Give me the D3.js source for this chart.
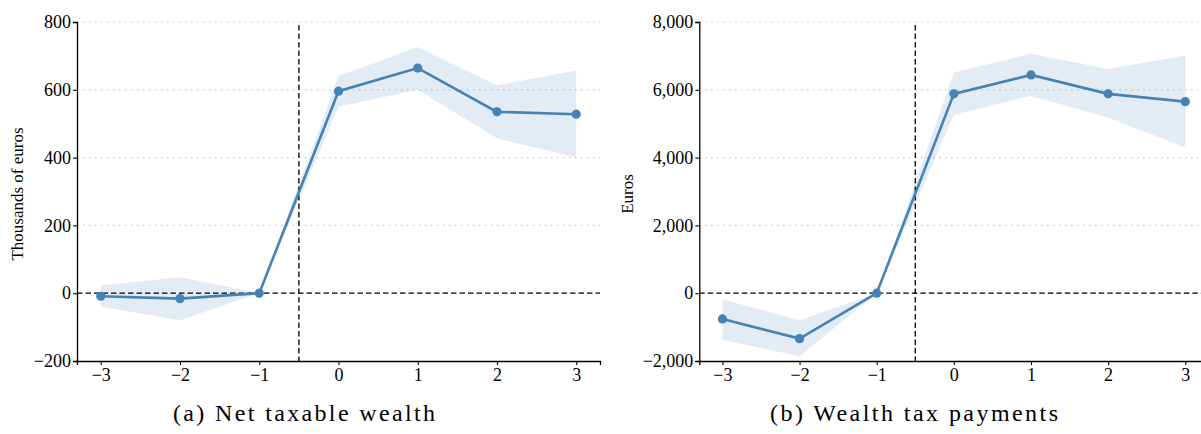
<!DOCTYPE html>
<html>
<head>
<meta charset="utf-8">
<script src="https://cdn.jsdelivr.net/npm/d3@7"></script>
<style>
  body { margin: 0; background: #fff; }
  svg { display: block; }
  svg text { font-family: "Liberation Serif", "DejaVu Serif", serif; }
</style>
</head>
<body>
<svg id="chart" width="1201" height="434"></svg>
<script>
// event time (years relative to treatment)
const years = [-3, -2, -1, 0, 1, 2, 3];

// (a) net taxable wealth, thousands of euros
const wealthEst = [-9, -16, 0, 596, 664, 535, 528];
const wealthLo = [-40, -80, 0, 550, 600, 457, 400];
const wealthHi = [23, 47, 0, 641, 726, 613, 657];
const wealthTicks = [-200, 0, 200, 400, 600, 800];

// (b) wealth tax payments, euros
const taxEst = [-760, -1340, 0, 5880, 6440, 5880, 5650];
const taxLo = [-1370, -1860, 0, 5260, 5820, 5180, 4300];
const taxHi = [-180, -800, 0, 6510, 7060, 6610, 7010];
const taxTicks = [-2000, 0, 2000, 4000, 6000, 8000];

const blue = '#4682b4';
const svg = d3.select('#chart');

function drawPanel(opts) {
  const x = d3.scaleLinear().domain([-3.3, 3.3]).range([opts.left, opts.right]);
  const y = d3.scaleLinear().domain(opts.domain).range([361, 22]);
  const g = svg.append('g');

  // dotted grid
  g.selectAll('line.grid')
    .data(opts.ticks.filter(t => t !== 0 && t !== opts.domain[0]))
    .enter()
    .append('line')
    .attr('class', 'grid')
    .attr('x1', opts.left)
    .attr('x2', opts.right)
    .attr('y1', d => y(d))
    .attr('y2', d => y(d))
    .attr('stroke', '#bdbdbd')
    .attr('stroke-width', 1.2)
    .attr('stroke-dasharray', '1.3,4.7');

  // confidence band
  const band = years.map((t, i) => ({ t, lo: opts.lo[i], hi: opts.hi[i] }));
  g.append('path')
    .datum(band)
    .attr('fill', blue)
    .attr('fill-opacity', 0.15)
    .attr('d', d3.area().x(d => x(d.t)).y0(d => y(d.lo)).y1(d => y(d.hi)));

  // reference lines
  g.append('line')
    .attr('x1', opts.left).attr('x2', opts.right)
    .attr('y1', y(0)).attr('y2', y(0))
    .attr('stroke', '#000').attr('stroke-width', 1.3)
    .attr('stroke-dasharray', '5.5,3');
  g.append('line')
    .attr('x1', x(-0.5)).attr('x2', x(-0.5))
    .attr('y1', 25).attr('y2', y(opts.domain[0]))
    .attr('stroke', '#000').attr('stroke-width', 1.3)
    .attr('stroke-dasharray', '5.5,3');

  // estimates
  const pts = years.map((t, i) => ({ t, v: opts.est[i] }));
  g.append('path')
    .datum(pts)
    .attr('fill', 'none')
    .attr('stroke', blue)
    .attr('stroke-width', 2.6)
    .attr('d', d3.line().x(d => x(d.t)).y(d => y(d.v)));
  g.selectAll('circle')
    .data(pts)
    .enter()
    .append('circle')
    .attr('cx', d => x(d.t))
    .attr('cy', d => y(d.v))
    .attr('r', 4.6)
    .attr('fill', blue);

  // axes
  const yAxis = g.append('g')
    .attr('transform', `translate(${opts.left},0)`)
    .call(d3.axisLeft(y).tickValues(opts.ticks).tickFormat(d3.format(',')).tickSize(4).tickPadding(2));
  const xAxis = g.append('g')
    .attr('transform', 'translate(0,361)')
    .call(d3.axisBottom(x).tickValues(years).tickFormat(d3.format('d')).tickSize(4).tickPadding(3));
  [yAxis, xAxis].forEach(a => {
    a.attr('font-size', null).attr('font-family', null);
    a.select('.domain').attr('stroke', '#000').attr('stroke-width', 1.3);
    a.selectAll('.tick line').attr('stroke', '#000').attr('stroke-width', 1.1);
    a.selectAll('text').attr('fill', '#000')
      .style('font-size', '18px')
      .style('font-family', '"Liberation Serif", serif');
  });

  g.append('text')
    .attr('transform', `translate(${opts.labelX},194) rotate(-90)`)
    .attr('text-anchor', 'middle')
    .style('font-size', '17px')
    .text(opts.yLabel);

  g.append('text')
    .attr('x', opts.captionX)
    .attr('y', 421)
    .attr('text-anchor', 'middle')
    .attr('textLength', opts.captionLen)
    .attr('lengthAdjust', 'spacing')
    .style('font-size', '24px')
    .text(opts.caption);
}

drawPanel({
  left: 77, right: 600, domain: [-200, 800], ticks: wealthTicks,
  est: wealthEst, lo: wealthLo, hi: wealthHi,
  yLabel: 'Thousands of euros', labelX: 23,
  caption: '(a) Net taxable wealth', captionX: 304, captionLen: 262
});

drawPanel({
  left: 699.3, right: 1208.4, domain: [-2000, 8000], ticks: taxTicks,
  est: taxEst, lo: taxLo, hi: taxHi,
  yLabel: 'Euros', labelX: 633,
  caption: '(b) Wealth tax payments', captionX: 914, captionLen: 288
});
</script>
</body>
</html>
